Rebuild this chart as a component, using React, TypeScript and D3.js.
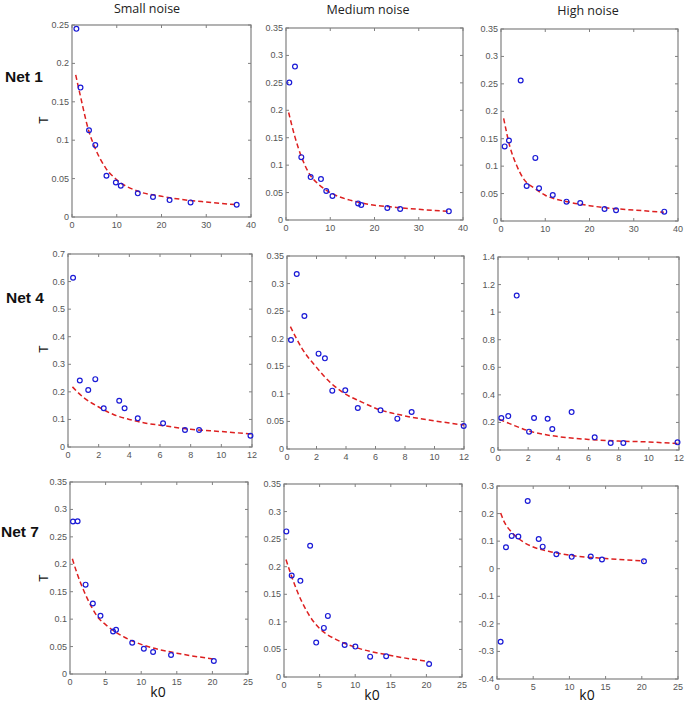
import * as d3 from "d3";

// column titles, row labels
const noiseLevels = ["Small noise", "Medium noise", "High noise"];
const netNames = ["Net 1", "Net 4", "Net 7"];

// axis extents per row / panel
const xDomains = [[0, 40], [0, 12], [0, 25]];
const xTickSteps = [10, 2, 5];
const yDomains = [
  [[0, 0.25], [0, 0.35], [0, 0.35]],
  [[0, 0.7], [0, 0.35], [0, 1.4]],
  [[0, 0.35], [0, 0.35], [-0.4, 0.3]],
];
const yTickSteps = [
  [0.05, 0.05, 0.05],
  [0.1, 0.05, 0.2],
  [0.05, 0.05, 0.1],
];

// observed points [k0, T]
const net1Small = [[0.98, 0.245], [1.9, 0.1685], [3.8, 0.113], [5.2, 0.0936], [7.7, 0.0537], [9.8, 0.045], [10.9, 0.0407], [14.7, 0.0308], [18.1, 0.026], [21.8, 0.022], [26.5, 0.019], [36.8, 0.016]];
const net1Medium = [[0.75, 0.2505], [2.03, 0.2796], [3.46, 0.1146], [5.57, 0.0782], [7.9, 0.0746], [9.1, 0.0528], [10.5, 0.0437], [16.3, 0.0303], [17.0, 0.0273], [22.9, 0.0218], [25.8, 0.02], [36.8, 0.0158]];
const net1High = [[0.83, 0.136], [1.8, 0.1467], [4.45, 0.256], [5.8, 0.0639], [7.76, 0.115], [8.6, 0.0597], [11.7, 0.0475], [14.8, 0.0353], [17.9, 0.0329], [23.4, 0.0219], [26.0, 0.0195], [36.9, 0.017]];
const net4Small = [[0.33, 0.614], [0.77, 0.241], [1.32, 0.207], [1.78, 0.246], [2.33, 0.1405], [3.34, 0.168], [3.69, 0.1405], [4.55, 0.104], [6.2, 0.086], [7.63, 0.0618], [8.55, 0.0618], [11.9, 0.041]];
const net4Medium = [[0.27, 0.1977], [0.66, 0.3174], [1.18, 0.2412], [2.14, 0.1729], [2.57, 0.1644], [3.07, 0.1058], [3.95, 0.1064], [4.8, 0.0744], [6.34, 0.0701], [7.48, 0.055], [8.45, 0.0671], [11.98, 0.0417]];
const net4High = [[0.22, 0.232], [0.68, 0.246], [1.24, 1.12], [2.06, 0.133], [2.39, 0.232], [3.29, 0.227], [3.6, 0.152], [4.88, 0.275], [6.41, 0.0917], [7.47, 0.0507], [8.31, 0.0507], [11.9, 0.0555]];
const net7Small = [[0.42, 0.278], [1.07, 0.2785], [2.19, 0.1629], [3.21, 0.1284], [4.28, 0.106], [6.05, 0.0775], [6.47, 0.0805], [8.74, 0.0569], [10.37, 0.046], [11.67, 0.04], [14.19, 0.0345], [20.2, 0.0236]];
const net7Medium = [[0.33, 0.264], [1.08, 0.184], [2.3, 0.1744], [3.67, 0.238], [4.52, 0.0624], [5.6, 0.089], [6.16, 0.1108], [8.52, 0.0581], [10.02, 0.0551], [12.1, 0.0369], [14.35, 0.0375], [20.38, 0.0236]];
const net7High = [[0.5, -0.265], [1.24, 0.078], [2.03, 0.119], [2.95, 0.1166], [4.24, 0.2456], [5.76, 0.108], [6.31, 0.08], [8.2, 0.0526], [10.32, 0.043], [12.95, 0.0442], [14.5, 0.0333], [20.3, 0.0273]];

// fitted curves [k0, T]
const net1SmallFit = [[0.83, 0.185], [1.9, 0.157], [3.8, 0.111], [5, 0.092], [7.5, 0.064], [10, 0.0485], [15, 0.033], [20, 0.027], [25, 0.0225], [30, 0.0195], [36.8, 0.016]];
const net1MediumFit = [[0.6, 0.196], [2, 0.152], [3.5, 0.115], [5, 0.088], [7.5, 0.064], [10, 0.05], [15, 0.035], [20, 0.027], [25, 0.023], [30, 0.0194], [36.8, 0.016]];
const net1HighFit = [[0.6, 0.187], [2, 0.136], [3.5, 0.102], [5, 0.078], [7.5, 0.06], [10, 0.047], [15, 0.035], [20, 0.028], [25, 0.023], [30, 0.02], [36.8, 0.016]];
const net4SmallFit = [[0.29, 0.218], [1, 0.18], [2, 0.145], [3, 0.117], [4, 0.1], [5, 0.087], [6, 0.079], [8, 0.064], [10, 0.056], [12, 0.047]];
const net4MediumFit = [[0.23, 0.222], [1, 0.183], [2, 0.148], [3, 0.119], [4, 0.099], [5, 0.086], [6, 0.074], [8, 0.06], [10, 0.051], [12, 0.0435]];
const net4HighFit = [[0.1, 0.222], [1, 0.181], [2, 0.14], [4, 0.097], [6, 0.077], [8, 0.065], [10, 0.058], [12, 0.046]];
const net7SmallFit = [[0.33, 0.21], [1, 0.183], [2, 0.15], [3, 0.123], [4, 0.102], [5, 0.09], [7.5, 0.068], [10, 0.054], [15, 0.038], [20.4, 0.027]];
const net7MediumFit = [[0.28, 0.213], [1, 0.185], [2, 0.151], [3, 0.124], [4, 0.103], [5, 0.088], [7.5, 0.067], [10, 0.054], [15, 0.039], [20.4, 0.028]];
const net7HighFit = [[0.5, 0.202], [1, 0.17], [2, 0.133], [3, 0.109], [4, 0.091], [5, 0.079], [7.5, 0.061], [10, 0.049], [15, 0.037], [20.3, 0.028]];

const points = [
  [net1Small, net1Medium, net1High],
  [net4Small, net4Medium, net4High],
  [net7Small, net7Medium, net7High],
];
const fits = [
  [net1SmallFit, net1MediumFit, net1HighFit],
  [net4SmallFit, net4MediumFit, net4HighFit],
  [net7SmallFit, net7MediumFit, net7HighFit],
];

// panel boxes in page pixels [left, top, right, bottom]
const boxes = [
  [[72, 25, 251, 217], [286, 28, 463, 220], [501, 29, 678, 221]],
  [[68, 254, 252, 447], [287, 256, 464, 449], [498, 257, 679, 450]],
  [[70, 482, 248, 674], [284, 484, 462, 677], [497, 486, 678, 679]],
];

const W = 685;
const H = 703;
const axisColor = "#808080";
const tickText = "#555";
const tickFont = "'Liberation Sans', Arial, sans-serif";

const fmt = (v: number) => String(+v.toFixed(2));

function ticksFor(domain: number[], step: number) {
  const out: number[] = [];
  const n = Math.round((domain[1] - domain[0]) / step);
  for (let i = 0; i <= n; i++) out.push(domain[0] + i * step);
  return out;
}

function Panel({ r, c }: { r: number; c: number }) {
  const [x0, y0, x1, y1] = boxes[r][c];
  const x = d3.scaleLinear().domain(xDomains[r]).range([x0, x1]);
  const y = d3.scaleLinear().domain(yDomains[r][c]).range([y1, y0]);
  const xt = ticksFor(xDomains[r], xTickSteps[r]);
  const yt = ticksFor(yDomains[r][c], yTickSteps[r][c]);
  const line = d3
    .line<number[]>()
    .x((d) => x(d[0]))
    .y((d) => y(d[1]))
    .curve(d3.curveMonotoneX);
  const tl = 3;
  return (
    <g>
      <rect x={x0} y={y0} width={x1 - x0} height={y1 - y0} fill="#fff" stroke={axisColor} strokeWidth={1.2} />
      {xt.map((t, i) => (
        <g key={"x" + i}>
          <line x1={x(t)} x2={x(t)} y1={y1} y2={y1 - tl} stroke={axisColor} />
          <line x1={x(t)} x2={x(t)} y1={y0} y2={y0 + tl} stroke={axisColor} />
          <text x={x(t)} y={y1 + 10.5} textAnchor="middle" fontSize={9} fill={tickText} fontFamily={tickFont}>
            {fmt(t)}
          </text>
        </g>
      ))}
      {yt.map((t, i) => (
        <g key={"y" + i}>
          <line x1={x0} x2={x0 + tl} y1={y(t)} y2={y(t)} stroke={axisColor} />
          <line x1={x1} x2={x1 - tl} y1={y(t)} y2={y(t)} stroke={axisColor} />
          <text x={x0 - 3} y={y(t) + 3} textAnchor="end" fontSize={9} fill={tickText} fontFamily={tickFont}>
            {fmt(t)}
          </text>
        </g>
      ))}
      <path d={line(fits[r][c]) || ""} fill="none" stroke="#dd2020" strokeWidth={1.5} strokeDasharray="5,3" />
      {points[r][c].map((p, i) => (
        <circle key={i} cx={x(p[0])} cy={y(p[1])} r={2.4} fill="none" stroke="#1a1ad6" strokeWidth={1.2} />
      ))}
    </g>
  );
}

const titleX = [147, 368, 588];
const titleY = [13, 14, 15];
const netX = [5, 6, 1];
const netY = [82, 303, 537];
const tY = [120, 349, 578];
const k0X = [158, 372, 587];
const k0Y = [697, 700, 700];

export default function App() {
  return (
    <svg width={W} height={H} style={{ position: "absolute", left: 0, top: 0, background: "#fff" }}>
      {noiseLevels.map((t, i) => (
        <text key={t} x={titleX[i]} y={titleY[i]} textAnchor="middle" fontSize={12.5} fill="#222" fontFamily="'Open Sans', sans-serif">
          {t}
        </text>
      ))}
      {netNames.map((t, i) => (
        <text key={t} x={netX[i]} y={netY[i]} fontSize={15.5} fontWeight="bold" fill="#111" fontFamily="'Liberation Sans', Arial, sans-serif">
          {t}
        </text>
      ))}
      {tY.map((ty, i) => (
        <text key={"T" + i} transform={`translate(${48},${ty}) rotate(-90)`} textAnchor="middle" fontSize={12} fill="#111" fontFamily="'Liberation Sans', Arial, sans-serif">
          T
        </text>
      ))}
      {k0X.map((kx, i) => (
        <text key={"k" + i} x={kx} y={k0Y[i]} textAnchor="middle" fontSize={14} fill="#111" fontFamily="'Open Sans', sans-serif">
          k0
        </text>
      ))}
      {[0, 1, 2].map((r) => [0, 1, 2].map((c) => <Panel key={`${r}-${c}`} r={r} c={c} />))}
    </svg>
  );
}
